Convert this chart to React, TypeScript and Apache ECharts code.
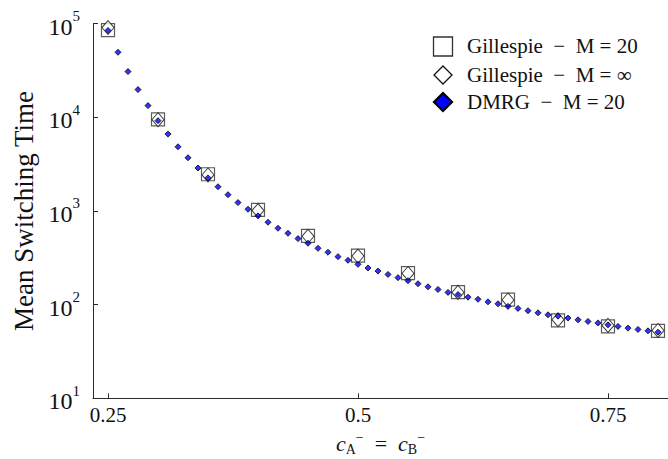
import React, { useEffect, useRef } from "react";
import * as echarts from "echarts";

const FONT = "Liberation Serif";

const seriesNames = ["Gillespie  −  M = 20", "Gillespie  −  M = ∞", "DMRG  −  M = 20"];

const gillespieX = [0.25, 0.3, 0.35, 0.4, 0.45, 0.5, 0.55, 0.6, 0.65, 0.7, 0.75, 0.8];
const gillespieM20 = [85000, 9500, 2460, 1026, 541, 333, 217, 136, 113, 68, 58.7, 52.4];
const gillespieInf = [90600, 9400, 2420, 1010, 535, 330, 215, 135, 112, 69, 60, 53];

const dmrgX = [
  0.25, 0.26, 0.27, 0.28, 0.29, 0.3, 0.31, 0.32, 0.33, 0.34, 0.35, 0.36, 0.37, 0.38,
  0.39, 0.4, 0.41, 0.42, 0.43, 0.44, 0.45, 0.46, 0.47, 0.48, 0.49, 0.5, 0.51, 0.52,
  0.53, 0.54, 0.55, 0.56, 0.57, 0.58, 0.59, 0.6, 0.61, 0.62, 0.63, 0.64, 0.65, 0.66,
  0.67, 0.68, 0.69, 0.7, 0.71, 0.72, 0.73, 0.74, 0.75, 0.76, 0.77, 0.78, 0.79, 0.8,
];
const dmrgM20 = [
  84100, 49300, 30700, 19700, 13300, 9190, 6600, 4830, 3690, 2870, 2250, 1810, 1490, 1227,
  1042, 885, 757, 653, 577, 506, 452, 399, 362, 325, 297, 269, 246, 228,
  210, 194, 180, 167, 155, 145, 135, 128, 120, 114, 107, 102, 95.7, 91,
  86, 81.7, 77.8, 75.3, 71.8, 68.8, 66.1, 63.8, 60.8, 58.5, 56.1, 54.3, 52.5, 50.8,
];

const xTicks = [0.25, 0.5, 0.75];
const xTickLabels = ["0.25", "0.5", "0.75"];

const zip = (xs: number[], ys: number[]) => xs.map((x, i) => [x, ys[i]]);

const diamondPts = (cx: number, cy: number, r: number) => [
  [cx, cy - r],
  [cx + r, cy],
  [cx, cy + r],
  [cx - r, cy],
];

export default function App() {
  const ref = useRef<HTMLDivElement>(null);
  useEffect(() => {
    if (!ref.current) return;
    const chart = echarts.init(ref.current, undefined, { renderer: "svg" });
    const axisColor = "#2a2a2a";
    const legendRows = [46.5, 75, 102];
    const legendText = (i: number) => ({
      type: "text",
      x: 467,
      y: legendRows[i] - 11,
      z: 10,
      style: {
        text: seriesNames[i],
        font: "21px 'Liberation Serif', serif",
        fontFamily: FONT,
        fontSize: 21,
        fill: "#111",
      },
    });
    chart.setOption({
      animation: false,
      backgroundColor: "#ffffff",
      grid: { left: 93, right: 0, top: 23.5, bottom: 60.7, containLabel: false, outerBoundsMode: "none" },
      graphic: [
        legendText(0),
        legendText(1),
        legendText(2),
        {
          type: "rect",
          shape: { x: 433.5, y: 37, width: 19, height: 19 },
          style: { fill: "none", stroke: "#333", lineWidth: 1.3 },
        },
        {
          type: "polygon",
          shape: { points: diamondPts(443, legendRows[1], 9) },
          style: { fill: "#fff", stroke: "#111", lineWidth: 1.3 },
        },
        {
          type: "polygon",
          shape: { points: diamondPts(443, legendRows[2], 9) },
          style: { fill: "#0000ff", stroke: "#000", lineWidth: 2.2 },
        },
      ],
      xAxis: {
        type: "value",
        min: 0.235,
        max: 0.81,
        name: "{c|c}{sub|A}{sup|−}{eq|  =  }{c|c}{sub|B}{sup|−}",
        nameLocation: "middle",
        nameGap: 25,
        nameTextStyle: {
          fontFamily: FONT,
          color: "#111",
          rich: {
            c: { fontFamily: FONT, fontSize: 22, fontStyle: "italic", lineHeight: 26, verticalAlign: "middle" },
            sub: { fontFamily: FONT, fontSize: 14, lineHeight: 26, verticalAlign: "bottom" },
            sup: { fontFamily: FONT, fontSize: 14, lineHeight: 26, verticalAlign: "top" },
            eq: { fontFamily: FONT, fontSize: 22, lineHeight: 26, verticalAlign: "middle" },
          },
        },
        axisLine: { show: true, lineStyle: { color: axisColor, width: 1 } },
        axisTick: { show: true, inside: true, length: 5, customValues: xTicks, lineStyle: { color: axisColor } },
        axisLabel: {
          customValues: xTicks,
          fontFamily: FONT,
          fontSize: 21,
          color: "#111",
          margin: 6,
          formatter: (v: number) => {
            const i = xTicks.findIndex((t) => Math.abs(t - v) < 1e-9);
            return i >= 0 ? xTickLabels[i] : "";
          },
        },
        splitLine: { show: false },
      },
      yAxis: {
        type: "log",
        logBase: 10,
        min: 10,
        max: 100000,
        name: "Mean Switching Time",
        nameLocation: "middle",
        nameGap: 39,
        nameTextStyle: { fontFamily: FONT, fontSize: 27, color: "#111" },
        axisLine: { show: true, lineStyle: { color: axisColor, width: 1 } },
        axisTick: { show: true, inside: true, length: 5, lineStyle: { color: axisColor } },
        axisLabel: {
          margin: 13,
          color: "#111",
          formatter: (v: number) => `{b|10}{s|${Math.round(Math.log10(v))}}`,
          rich: {
            b: { fontFamily: FONT, fontSize: 24, lineHeight: 30, verticalAlign: "bottom", color: "#111" },
            s: { fontFamily: FONT, fontSize: 15, lineHeight: 15, verticalAlign: "top", color: "#111" },
          },
        },
        splitLine: { show: false },
        minorTick: { show: false },
      },
      series: [
        {
          name: seriesNames[0],
          type: "scatter",
          symbol: "rect",
          symbolSize: 13,
          data: zip(gillespieX, gillespieM20),
          itemStyle: { color: "rgba(255,255,255,0)", borderColor: "#333", borderWidth: 1.2 },
          z: 2,
        },
        {
          name: seriesNames[1],
          type: "scatter",
          symbol: "diamond",
          symbolSize: [12, 14],
          data: zip(gillespieX, gillespieInf),
          itemStyle: { color: "#ffffff", borderColor: "#111", borderWidth: 1 },
          z: 3,
        },
        {
          name: seriesNames[2],
          type: "scatter",
          symbol: "diamond",
          symbolSize: 6,
          data: zip(dmrgX, dmrgM20),
          itemStyle: { color: "#0000ff", borderColor: "#000", borderWidth: 1 },
          z: 4,
        },
      ],
    });
    return () => chart.dispose();
  }, []);
  return <div ref={ref} style={{ position: "fixed", left: 0, top: 0, width: 668, height: 459 }} />;
}
